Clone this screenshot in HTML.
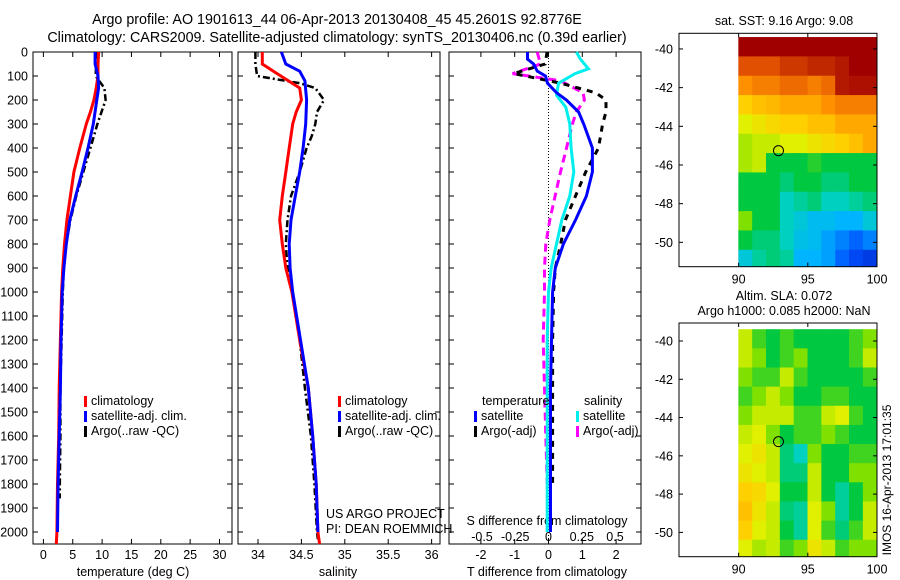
<!DOCTYPE html>
<html><head><meta charset="utf-8">
<style>
body{margin:0;background:#fff;}
svg{display:block;font-family:"Liberation Sans",sans-serif;}
text{fill:#000;}
</style></head>
<body>
<svg id="fig" width="900" height="580" viewBox="0 0 900 580">
<text x="337" y="24" font-size="14.3" text-anchor="middle">Argo profile: AO 1901613_44 06-Apr-2013 20130408_45 45.2601S 92.8776E</text>
<text x="337" y="42" font-size="14.3" text-anchor="middle">Climatology: CARS2009. Satellite-adjusted climatology: synTS_20130406.nc (0.39d earlier)</text>
<text x="133" y="576" font-size="12.5" text-anchor="middle">temperature (deg C)</text>
<text x="338" y="576" font-size="12.5" text-anchor="middle">salinity</text>
<text x="547" y="576" font-size="12.5" text-anchor="middle">T difference from climatology</text>
<text x="547" y="525" font-size="12.5" text-anchor="middle">S difference from climatology</text>
<text x="326" y="518" font-size="12.5">US ARGO PROJECT</text>
<text x="326" y="533" font-size="12.5">PI: DEAN ROEMMICH</text>
<text x="784" y="25" font-size="12.5" text-anchor="middle">sat. SST: 9.16 Argo: 9.08</text>
<text x="784" y="300" font-size="12.5" text-anchor="middle">Altim. SLA: 0.072</text>
<text x="784" y="315" font-size="12.5" text-anchor="middle">Argo h1000: 0.085 h2000: NaN</text>
<text x="0" y="0" font-size="12" text-anchor="middle" transform="translate(891,480) rotate(-90)">IMOS 16-Apr-2013 17:01:35</text>
</svg>
<script>
// ---- data ----
const depthTicks=[0,100,200,300,400,500,600,700,800,900,1000,1100,1200,1300,1400,1500,1600,1700,1800,1900,2000];
const tempTicks=[0,5,10,15,20,25,30];
const salTicks=[34,34.5,35,35.5,36];
const tdiffTicks=[-2,-1,0,1,2];
const sdiffTicks=[-0.5,-0.25,0,0.25,0.5];
const latTicks=[-40,-42,-44,-46,-48,-50];
const lonTicks=[90,95,100];

const tClimD=[0,50,100,150,200,250,300,400,500,600,700,800,900,1000,1200,1400,1600,1800,2000,2050];
const tClim=[9.4,9.3,9.3,9.0,8.6,8.0,7.3,6.2,5.2,4.6,4.0,3.6,3.3,3.1,2.9,2.7,2.6,2.4,2.3,2.2];
const tSatD=[0,50,100,150,200,300,400,500,600,700,800,900,1000,1200,1400,1600,1800,2000];
const tSat=[8.8,8.8,9.3,9.4,9.1,8.5,7.6,6.6,5.5,4.5,3.9,3.5,3.2,3.0,2.9,2.7,2.5,2.4];
const tArgoD=[0,50,100,150,200,300,400,500,600,700,800,900,1000,1200,1400,1600,1800,1860];
const tArgo=[9.0,9.0,8.9,10.4,10.6,9.2,8.0,6.8,5.6,4.6,3.9,3.5,3.3,3.1,2.9,2.9,2.8,2.8];

const sClimD=[0,50,90,150,200,250,300,400,500,600,700,800,900,1000,1200,1400,1600,1800,2000,2050];
const sClim=[34.05,34.05,34.22,34.48,34.5,34.44,34.4,34.36,34.32,34.28,34.25,34.28,34.32,34.39,34.48,34.58,34.63,34.67,34.69,34.71];
const sSatD=[0,50,80,120,200,300,400,500,600,700,800,900,1000,1200,1400,1600,1800,2000];
const sSat=[34.27,34.32,34.48,34.54,34.56,34.55,34.52,34.48,34.43,34.38,34.36,34.37,34.4,34.49,34.58,34.63,34.67,34.69];
const sArgoD=[0,50,100,130,150,200,250,300,350,400,500,600,700,800,900,1000,1200,1400,1600,1800,2000,2030];
const sArgo=[33.97,33.97,33.99,34.48,34.66,34.76,34.68,34.66,34.62,34.56,34.48,34.38,34.34,34.32,34.34,34.39,34.48,34.54,34.61,34.65,34.68,34.69];

const dTSatD=[0,30,50,80,100,130,170,200,250,300,400,500,600,700,800,900,1000,1200,1400,2000];
const dTSat=[-0.62,-0.62,-0.44,-0.33,-0.09,-0.03,0.24,0.53,0.89,1.04,1.3,1.3,1.12,0.8,0.44,0.2,0.12,0.09,0.06,0.06];
const dSSatD=[0,30,70,90,130,180,230,300,400,500,600,700,800,900,1000,1200,2000];
const dSSat=[0.21,0.24,0.3,0.2,0.075,0.06,0.13,0.16,0.17,0.19,0.16,0.1,0.06,0.02,0.0,-0.01,-0.01];
const dTArgoD=[0,50,90,100,130,170,200,250,300,400,500,600,700,800,900,1000,1200,1400,1800];
const dTArgo=[-0.04,-0.1,-1.03,-0.68,0.36,1.4,1.7,1.7,1.6,1.48,1.1,0.8,0.5,0.36,0.2,0.15,0.12,0.12,0.12];
const dSArgoD=[0,50,90,120,170,200,250,300,400,500,600,700,800,900,1000,1200,1400,1600,1800];
const dSArgo=[-0.085,-0.06,-0.27,0.09,0.26,0.27,0.21,0.18,0.135,0.09,0.05,0.01,-0.02,-0.03,-0.03,-0.04,-0.03,-0.02,-0.01];

const sstGrid=[
[0.95,0.95,0.95,0.95,0.95,0.95,0.95,0.95,0.95,0.95],
[0.85,0.85,0.85,0.88,0.88,0.9,0.9,0.92,0.95,0.95],
[0.78,0.8,0.8,0.82,0.82,0.8,0.82,0.92,0.93,0.93],
[0.7,0.72,0.73,0.75,0.75,0.75,0.78,0.8,0.8,0.8],
[0.62,0.65,0.68,0.7,0.7,0.72,0.72,0.75,0.75,0.75],
[0.58,0.6,0.6,0.62,0.62,0.65,0.68,0.7,0.72,0.75],
[0.58,0.6,0.45,0.45,0.45,0.48,0.45,0.45,0.45,0.45],
[0.45,0.45,0.45,0.42,0.45,0.45,0.42,0.42,0.45,0.45],
[0.45,0.45,0.45,0.38,0.4,0.42,0.38,0.38,0.4,0.42],
[0.55,0.45,0.45,0.38,0.35,0.32,0.32,0.3,0.3,0.35],
[0.45,0.42,0.42,0.38,0.33,0.32,0.28,0.25,0.22,0.25],
[0.35,0.4,0.42,0.4,0.3,0.3,0.28,0.22,0.18,0.15],
[0.3,0.38,0.38,0.3,0.2,0.2,0.28,0.2,0.15,0.12]];
const slaGrid=[
[0.6,0.5,0.45,0.5,0.45,0.45,0.45,0.45,0.5,0.55],
[0.6,0.55,0.45,0.5,0.55,0.45,0.45,0.45,0.5,0.6],
[0.55,0.5,0.5,0.6,0.5,0.45,0.45,0.45,0.45,0.5],
[0.5,0.55,0.6,0.55,0.45,0.45,0.5,0.5,0.45,0.45],
[0.55,0.6,0.6,0.6,0.5,0.5,0.6,0.62,0.5,0.45],
[0.6,0.62,0.55,0.45,0.5,0.5,0.55,0.5,0.45,0.45],
[0.62,0.65,0.6,0.42,0.38,0.55,0.45,0.45,0.5,0.5],
[0.65,0.62,0.6,0.42,0.42,0.6,0.45,0.45,0.55,0.55],
[0.7,0.68,0.62,0.45,0.45,0.6,0.45,0.4,0.45,0.55],
[0.72,0.65,0.6,0.42,0.4,0.62,0.55,0.4,0.45,0.6],
[0.7,0.62,0.6,0.45,0.4,0.62,0.5,0.42,0.5,0.6],
[0.62,0.58,0.6,0.5,0.55,0.65,0.6,0.5,0.55,0.55],
[0.5,0.5,0.5,0.5,0.5,0.5,0.6,0.5,0.5,0.5]];
const floatLon=[92.88];
const floatLat=[-45.26];

// ---- helpers ----
const NS='http://www.w3.org/2000/svg';
const svg=document.getElementById('fig');
function mk(tag,attrs,parent){const e=document.createElementNS(NS,tag);for(const k in attrs)e.setAttribute(k,attrs[k]);(parent||svg).appendChild(e);return e;}
const yD=d=>52+0.24*d;
const PB=544;

const panels=[
 {name:'temperature',x0:33,x1:232,sx:v=>43.4+5.87*v,ticks:tempTicks},
 {name:'salinity',x0:238,x1:440,sx:v=>258+86.8*(v-34),ticks:salTicks},
 {name:'difference',x0:449,x1:641,sx:v=>548.5+33.8*v,ticks:tdiffTicks}
];
panels.forEach((p,i)=>{
  const g=mk('g',{});
  
  
  const r=mk('rect',{x:p.x0,y:52,width:p.x1-p.x0,height:PB-52,fill:'none',stroke:'#000','stroke-width':1},g);
  
  
  depthTicks.forEach(d=>{
    mk('line',{x1:p.x0,x2:p.x0+5,y1:yD(d),y2:yD(d),stroke:'#000'},g);
    mk('line',{x1:p.x1,x2:p.x1-5,y1:yD(d),y2:yD(d),stroke:'#000'},g);
    if(i===0){const t=mk('text',{x:28,y:yD(d)+4.5,'font-size':12.5,'text-anchor':'end'},g);t.textContent=d;
      
      }
  });
  p.ticks.forEach(v=>{
    const x=p.sx(v);
    mk('line',{x1:x,x2:x,y1:PB,y2:PB-5,stroke:'#000'},g);
    mk('line',{x1:x,x2:x,y1:52,y2:57,stroke:'#000'},g);
    const t=mk('text',{x:x,y:559,'font-size':12.5,'text-anchor':'middle'},g);t.textContent=v;
    
    
  });
});
const sdx=v=>548.5+133*v;
sdiffTicks.forEach(v=>{
  const t=mk('text',{x:sdx(v),y:541,'font-size':12.5,'text-anchor':'middle'});t.textContent=v;
  
  
});
const zl=mk('line',{x1:panels[2].sx(0),x2:panels[2].sx(0),y1:52,y2:PB,stroke:'#000','stroke-dasharray':'1,2'});



function series(xs,ds,sx,color,dash,name,w){
  const pts=xs.map((v,k)=>sx(v).toFixed(1)+','+yD(ds[k]).toFixed(1)).join(' ');
  const a={points:pts,fill:'none',stroke:color,'stroke-width':w||3};
  if(dash)a['stroke-dasharray']=dash;
  const e=mk('polyline',a);
  
  
}
const P=panels;
series(tArgo,tArgoD,P[0].sx,'#000','7,3,2,3','temp-argo-line',2.5);
series(tClim,tClimD,P[0].sx,'#f00',null,'temp-climatology-line');
series(tSat,tSatD,P[0].sx,'#00f',null,'temp-satellite-line');
series(sArgo,sArgoD,P[1].sx,'#000','7,3,2,3','salinity-argo-line',2.5);
series(sClim,sClimD,P[1].sx,'#f00',null,'salinity-climatology-line');
series(sSat,sSatD,P[1].sx,'#00f',null,'salinity-satellite-line');
series(dSArgo,dSArgoD,sdx,'#f0f','8,5','s-diff-argo-line');
series(dTArgo,dTArgoD,P[2].sx,'#000','6,6','t-diff-argo-line');
series(dSSat,dSSatD,sdx,'#0ee',null,'s-diff-satellite-line');
series(dTSat,dTSatD,P[2].sx,'#00f',null,'t-diff-satellite-line');

function legend(x,y,items,name){
  const g=mk('g',{});
  
  
  items.forEach((it,k)=>{
    const yy=y+k*15;
    if(it[1])mk('rect',{x:x,y:yy-9,width:3,height:11,fill:it[1]},g);
    const t=mk('text',{x:x+(it[1]?7:0),y:yy,'font-size':12.5},g);t.textContent=it[0];
    
    
  });
}
legend(84,405,[['climatology','#f00'],['satellite-adj. clim.','#00f'],['Argo(..raw -QC)','#000']],'temperature-legend');
legend(338,405,[['climatology','#f00'],['satellite-adj. clim.','#00f'],['Argo(..raw -QC)','#000']],'salinity-legend');
legend(482,405,[['temperature',null]],'t-diff-legend-title');
legend(474,420,[['satellite','#00f'],['Argo(-adj)','#000']],'t-diff-legend');
legend(584,405,[['salinity',null]],'s-diff-legend-title');
legend(576,420,[['satellite','#0ee'],['Argo(-adj)','#f0f']],'s-diff-legend');

// ---- maps ----
const stops=[[0,[0,0,143]],[0.2,[0,80,255]],[0.3,[0,180,255]],[0.38,[0,208,192]],[0.45,[0,200,64]],[0.55,[128,224,0]],[0.62,[224,240,0]],[0.7,[255,208,0]],[0.78,[255,144,0]],[0.85,[224,80,0]],[0.95,[160,0,0]],[1,[140,0,0]]];
function cmap(v){for(let i=1;i<stops.length;i++){if(v<=stops[i][0]){const a=stops[i-1],b=stops[i],t=(v-a[0])/(b[0]-a[0]);const c=a[1].map((x,j)=>Math.round(x+(b[1][j]-x)*t));return 'rgb('+c+')';}}return 'rgb(140,0,0)';}
function drawMap(top,bottom,latTop,latBot,grid,name){
  const L=679,R=877,lon0=85.69;
  const lx=lo=>L+(lo-lon0)*(R-L)/(100-lon0);
  const ly=la=>top+(latTop-la)*(bottom-top)/(latTop-latBot);
  const g=mk('g',{});
  
  
  const g0=-39.4;
  grid.forEach((row,r)=>row.forEach((v,c)=>{
    const la1=g0-r, la2=Math.max(latBot,g0-r-1);
    if(la1<=la2)return;
    const cell=mk('rect',{x:lx(90+c)-0.3,y:ly(la1)-0.3,width:lx(91)-lx(90)+0.6,height:ly(la2)-ly(la1)+0.6,fill:cmap(v)},g);
    
    
  }));
  mk('rect',{x:L,y:top,width:R-L,height:bottom-top,fill:'none',stroke:'#000'},g);
  latTicks.forEach(la=>{
    mk('line',{x1:L,x2:L+4,y1:ly(la),y2:ly(la),stroke:'#000'},g);
    mk('line',{x1:R,x2:R-4,y1:ly(la),y2:ly(la),stroke:'#000'},g);
    const t=mk('text',{x:673,y:ly(la)+4.5,'font-size':12.5,'text-anchor':'end'},g);t.textContent=la;
    
    
  });
  lonTicks.forEach(lo=>{
    mk('line',{x1:lx(lo),x2:lx(lo),y1:bottom,y2:bottom-4,stroke:'#000'},g);
    mk('line',{x1:lx(lo),x2:lx(lo),y1:top,y2:top+4,stroke:'#000'},g);
    const t=mk('text',{x:lx(lo),y:bottom+17,'font-size':12.5,'text-anchor':'middle'},g);t.textContent=lo;
    
    
  });
  const m=mk('circle',{cx:lx(floatLon[0]),cy:ly(floatLat[0]),r:5,fill:'none',stroke:'#000'},g);
  
  
}
drawMap(33.3,266.7,-39.19,-51.26,sstGrid,'sst-map');
drawMap(323,556.7,-39.06,-51.27,slaGrid,'sla-map');
</script>
</body></html>
